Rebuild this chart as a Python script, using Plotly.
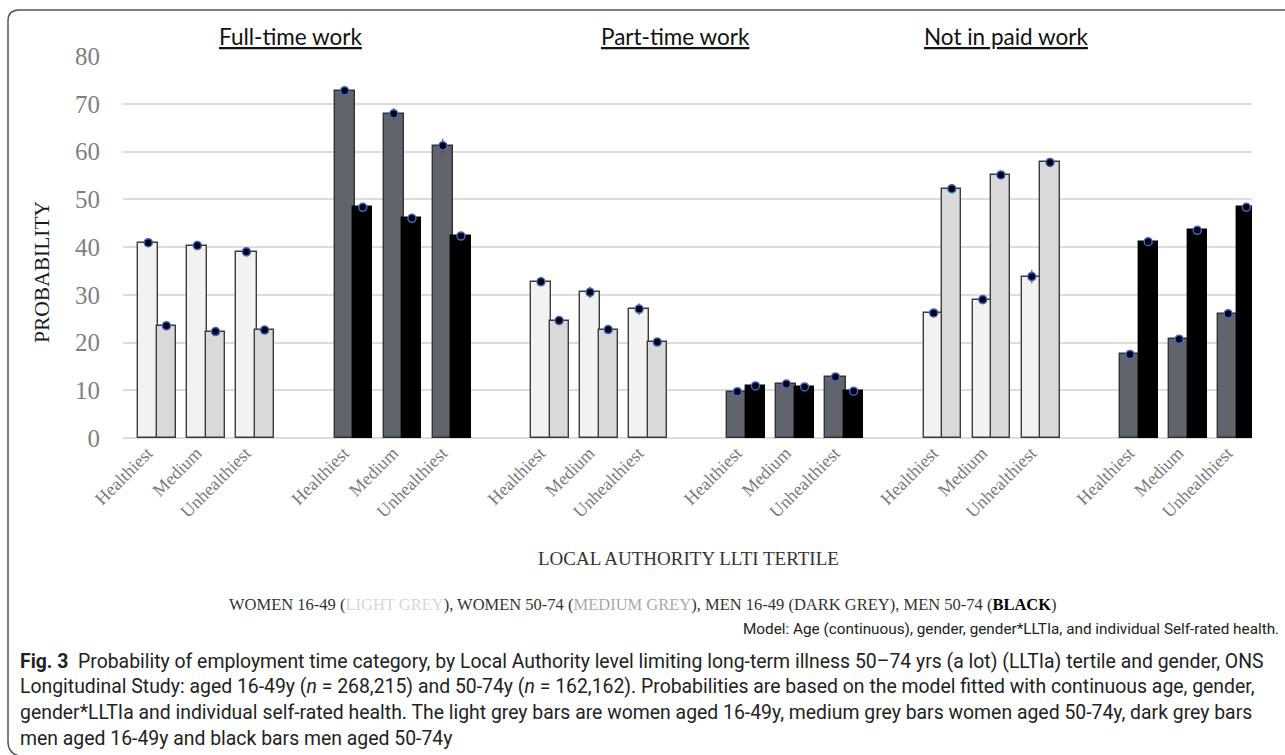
import plotly.graph_objects as go

# ---- data -------------------------------------------------------------
panels = ["Full-time work", "Part-time work", "Not in paid work"]
tertiles = ["Healthiest", "Medium", "Unhealthiest"]

# Probabilities (%) in order: full-time H/M/U, part-time H/M/U, not in paid work H/M/U
women_16_49 = [40.9, 40.3, 39.0, 32.7, 30.5, 27.0, 26.2, 29.0, 33.8]
women_50_74 = [23.5, 22.3, 22.6, 24.6, 22.7, 20.1, 52.2, 55.1, 57.7]
men_16_49 = [72.7, 67.9, 61.2, 9.7, 11.3, 12.8, 17.5, 20.7, 26.0]
men_50_74 = [48.3, 46.0, 42.3, 10.9, 10.7, 9.8, 41.1, 43.5, 48.3]

# half-width of the confidence intervals
women_16_49_ci = [0.4, 0.8, 1.0, 0.4, 1.2, 1.2, 0.4, 1.0, 1.4]
women_50_74_ci = [0.3, 0.3, 0.3, 0.3, 0.3, 0.3, 0.3, 0.3, 0.3]
men_16_49_ci = [0.4, 1.2, 1.5, 0.3, 0.4, 0.5, 0.3, 0.5, 0.6]
men_50_74_ci = [0.3, 0.3, 0.3, 0.3, 0.3, 0.3, 0.3, 0.3, 0.3]

y_ticks = [0, 10, 20, 30, 40, 50, 60, 70, 80]

# ---- category slots: women group, gap, men group, gap, ... -------------
women_slots, men_slots = [], []
for p in range(len(panels)):
    for t in range(len(tertiles)):
        women_slots.append(p * 8 + t)
        men_slots.append(p * 8 + 4 + t)
tick_vals = sorted(women_slots + men_slots)
tick_text = [tertiles[i % 3] for i in range(len(tick_vals))]

SERIF = "Liberation Serif"
L_OFF, L_W = -0.19, 0.41
R_OFF, R_W = 0.19, 0.39

fig = go.Figure()


def add_series(slots, values, ci, offset, width, fill, line):
    fig.add_trace(go.Bar(
        x=slots, y=values, offset=offset, width=width,
        marker=dict(color=fill, line=dict(color=line, width=1.4)),
        hoverinfo="y", showlegend=False,
    ))
    fig.add_trace(go.Scatter(
        x=[s + offset + width / 2 for s in slots], y=values,
        mode="markers",
        marker=dict(size=8, color="#000000", line=dict(color="#3d63d6", width=1.5)),
        error_y=dict(type="data", array=ci, visible=True, color="#3a3a3a",
                     thickness=1, width=0),
        showlegend=False, hoverinfo="skip", cliponaxis=False,
    ))


add_series(women_slots, women_16_49, women_16_49_ci, L_OFF, L_W, "#f2f2f2", "#3c3c3c")
add_series(women_slots, women_50_74, women_50_74_ci, R_OFF, R_W, "#d9d9d9", "#3c3c3c")
add_series(men_slots, men_16_49, men_16_49_ci, L_OFF, L_W, "#62646d", "#333333")
add_series(men_slots, men_50_74, men_50_74_ci, R_OFF, R_W, "#000000", "#000000")

# ---- geometry helpers (pixel -> paper) --------------------------------
PL, PR, PT, PB = 123, 1252, 56, 438


def px(x):
    return (x - PL) / (PR - PL)


def py(y):
    return (PB - y) / (PB - PT)


annotations = []
for name, cx in zip(panels, [290, 675, 1006]):
    annotations.append(dict(
        text="<u>" + name + "</u>", x=px(cx), y=py(37), xref="paper", yref="paper",
        showarrow=False, xanchor="center", yanchor="middle",
        font=dict(family="Lato", size=22.5, color="#111111")))

annotations.append(dict(
    text="PROBABILITY", x=px(42), y=py(272), xref="paper", yref="paper",
    showarrow=False, textangle=-90, xanchor="center", yanchor="middle",
    font=dict(family=SERIF, size=21.5, color="#1a1a1a")))

annotations.append(dict(
    text="LOCAL AUTHORITY LLTI TERTILE", x=px(688), y=py(558), xref="paper",
    yref="paper", showarrow=False, xanchor="center", yanchor="middle",
    font=dict(family=SERIF, size=19, color="#333333")))

annotations.append(dict(
    text=("WOMEN 16-49 (<span style='color:#d6d6d6'>LIGHT GREY</span>), "
          "WOMEN 50-74 (<span style='color:#a9a9a9'>MEDIUM GREY</span>), "
          "MEN 16-49 (DARK GREY), MEN 50-74 (<b style='color:#000000'>BLACK</b>)"),
    x=px(643), y=py(604), xref="paper", yref="paper", showarrow=False,
    xanchor="center", yanchor="middle",
    font=dict(family=SERIF, size=16.5, color="#333333")))

annotations.append(dict(
    text="Model: Age (continuous), gender, gender*LLTIa, and individual Self-rated health.",
    x=px(1281), y=py(629), xref="paper", yref="paper", showarrow=False,
    xanchor="right", yanchor="middle",
    font=dict(family="Roboto", size=15.3, color="#222222")))

caption_lines = [
    "<b>Fig. 3</b>  Probability of employment time category, by Local Authority level limiting "
    "long-term illness 50–74 yrs (a lot) (LLTIa) tertile and gender, ONS",
    "Longitudinal Study: aged 16-49y (<i>n</i> = 268,215) and 50-74y (<i>n</i> = 162,162). "
    "Probabilities are based on the model fitted with continuous age, gender,",
    "gender*LLTIa and individual self-rated health. The light grey bars are women aged 16-49y, "
    "medium grey bars women aged 50-74y, dark grey bars",
    "men aged 16-49y and black bars men aged 50-74y",
]
for i, line in enumerate(caption_lines):
    annotations.append(dict(
        text=line, x=px(18), y=py(661 + i * 25.7), xref="paper", yref="paper",
        showarrow=False, xanchor="left", yanchor="middle",
        font=dict(family="Roboto", size=19.4, color="#222222")))

# rounded frame around the figure
frame = (f"M {px(1300)} {py(10)} L {px(19)} {py(10)} "
         f"Q {px(8)} {py(10)} {px(8)} {py(21)} "
         f"L {px(8)} {py(742)} Q {px(8)} {py(753)} {px(19)} {py(756)}")

fig.update_layout(
    width=1285, height=755,
    margin=dict(l=PL, r=1285 - PR, t=PT, b=755 - PB),
    paper_bgcolor="white", plot_bgcolor="white",
    barmode="overlay", bargap=0,
    showlegend=False,
    annotations=annotations,
    shapes=[dict(type="path", path=frame, xref="paper", yref="paper",
                 line=dict(color="#555555", width=1.5))],
    xaxis=dict(
        range=[-0.5, 22.5], tickmode="array", tickvals=tick_vals, ticktext=tick_text,
        tickangle=-45, showgrid=False, zeroline=False, showline=False, ticks="",
        tickfont=dict(family=SERIF, size=18, color="#7a7a7a"),
    ),
    yaxis=dict(
        range=[0, 80], tickmode="array", tickvals=y_ticks,
        showgrid=True, gridcolor="#dcdcdc", gridwidth=1.5,
        zeroline=True, zerolinecolor="#dcdcdc", zerolinewidth=1.5,
        showline=False, ticks="", ticklabelstandoff=22,
        tickfont=dict(family=SERIF, size=25, color="#7f7f7f"),
    ),
)

fig.write_html("out.html")
